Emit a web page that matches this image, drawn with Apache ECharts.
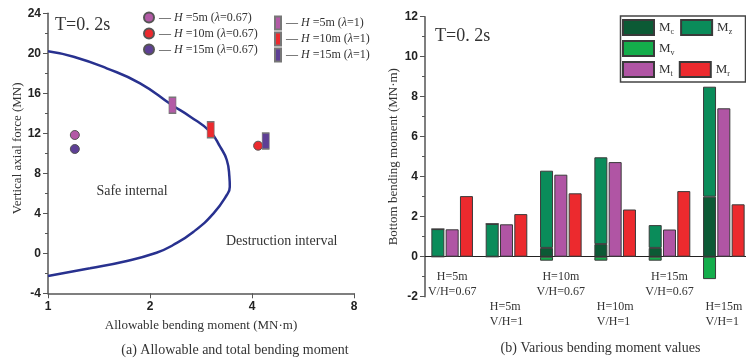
<!DOCTYPE html>
<html>
<head>
<meta charset="utf-8">
<script src="https://cdn.jsdelivr.net/npm/echarts@6/dist/echarts.min.js"></script>
<style>
    html, body { margin: 0; padding: 0; background: #fff; }
    #chart { width: 746px; height: 359px; }
</style>
</head>
<body>
<div id="chart"></div>
<script>
// (a) allowable bending moment curve: [moment MN·m, axial force MN]
var curvePoints = [
    [1.00, 20.2], [1.19, 19.66], [1.49, 18.5], [1.87, 17.0], [2.32, 14.83],
    [2.63, 13.66], [3.01, 12.16], [3.22, 10.66], [3.37, 9.33], [3.43, 7.66],
    [3.44, 6.66], [3.37, 5.83], [3.08, 4.0], [2.69, 2.16], [2.34, 0.83],
    [2.09, 0.06], [1.67, -0.84], [1.33, -1.5], [1.00, -2.27]
];
// total bending moment points, H = 5m, 10m, 15m
var heights = ["5", "10", "15"];
var markColors = ["#b35aa6", "#ec2a2e", "#5e3f95"];
var pts067 = [[1.20, 11.83], [4.17, 10.76], [1.20, 10.43]];
var pts1 = [[2.33, 14.8], [3.02, 12.36], [4.39, 11.23]];

// (b) bending moment values
var groups = ["H=5m\nV/H=0.67", "H=5m\nV/H=1", "H=10m\nV/H=0.67", "H=10m\nV/H=1", "H=15m\nV/H=0.67", "H=15m\nV/H=1"];
var mc = [0, 0, 0.44, 0.63, 0.44, 3.0];
var mzTop = [1.38, 1.64, 4.3, 4.97, 1.58, 8.5];
var mv = [0, 0, -0.2, -0.2, -0.2, -1.12];
var mt = [1.37, 1.62, 4.1, 4.73, 1.36, 7.42];
var mr = [3.03, 2.13, 3.17, 2.36, 3.28, 2.62];

var labelFont = { fontFamily: "Liberation Sans", fontWeight: "bold", fontSize: 12, color: "#222" };
var serif = "Liberation Serif";

var myChart = echarts.init(document.getElementById("chart"));

var series = [];
series.push({
    name: "curve",
    type: "line",
    xAxisIndex: 0,
    yAxisIndex: 0,
    data: curvePoints,
    smooth: true,
    showSymbol: false,
    lineStyle: { color: "#28318f", width: 2.5 },
    z: 1
});
for (var i = 0; i < 3; i++) {
    series.push({
        name: "H=" + heights[i] + "m (λ=0.67)",
        type: "scatter",
        xAxisIndex: 0,
        yAxisIndex: 0,
        symbol: "circle",
        symbolSize: 9,
        data: [pts067[i]],
        itemStyle: { color: markColors[i], borderColor: "#555", borderWidth: 1, opacity: 1 },
        z: 3
    });
}
for (var i = 0; i < 3; i++) {
    series.push({
        name: "H=" + heights[i] + "m (λ=1)",
        type: "scatter",
        xAxisIndex: 0,
        yAxisIndex: 0,
        symbol: "rect",
        symbolSize: [7, 16],
        data: [pts1[i]],
        itemStyle: { color: markColors[i], borderColor: "#777", borderWidth: 1, opacity: 1 },
        z: 3
    });
}

var mzPart = [];
for (var i = 0; i < mzTop.length; i++) {
    mzPart.push(+(mzTop[i] - mc[i]).toFixed(2));
}
function barSeries(name, data, color, stack) {
    var s = {
        name: name,
        type: "bar",
        xAxisIndex: 1,
        yAxisIndex: 1,
        data: data,
        barWidth: 13,
        barGap: "10%",
        itemStyle: { color: color, borderColor: "#3a3a3a", borderWidth: 1 }
    };
    if (stack) s.stack = stack;
    return s;
}
series.push(barSeries("Mc", mc, "#0c5a35", "g"));
series.push(barSeries("Mz", mzPart, "#0a8c5a", "g"));
series.push(barSeries("Mv", mv, "#14ad4b", "g"));
series.push(barSeries("Mt", mt, "#b055a4"));
series.push(barSeries("Mr", mr, "#ec2a2e"));

function leftLegendText(name) {
    var m = name.match(/H=(\d+)m \(λ=([\d.]+)\)/);
    return "— {i|H} =" + m[1] + "m ({i|λ}=" + m[2] + ")";
}
function momentText(name) {
    return "{m|M}{s|" + name.charAt(1) + "}";
}
var leftLegendStyle = {
    fontFamily: serif, fontSize: 12, color: "#333", lineHeight: 16,
    rich: { i: { fontFamily: serif, fontSize: 12, fontStyle: "italic", color: "#333" } }
};
var rightLegendStyle = {
    width: 28,
    rich: {
        m: { fontFamily: serif, fontSize: 13, color: "#333" },
        s: { fontFamily: serif, fontSize: 8, color: "#333", padding: [8, 0, 0, 0] }
    }
};

var option = {
    animation: false,
    backgroundColor: "#fff",
    grid: [
        { left: 48, right: 392, top: 13.3, bottom: 65.7, outerBoundsMode: "none" },
        { left: 425, right: -5, top: 16.7, bottom: 62.3, outerBoundsMode: "none" }
    ],
    legend: [
        {
            data: series.slice(1, 4).map(function (s) { return s.name; }),
            orient: "vertical", left: 143, top: 9.5, padding: 0, itemGap: 0,
            itemWidth: 10, itemHeight: 10, selectedMode: false,
            formatter: leftLegendText, textStyle: leftLegendStyle
        },
        {
            data: series.slice(4, 7).map(function (s) { return s.name; }),
            orient: "vertical", left: 274, top: 15, padding: 0, itemGap: 0,
            itemWidth: 6, itemHeight: 13, selectedMode: false,
            formatter: leftLegendText, textStyle: leftLegendStyle
        },
        {
            data: ["Mc", "Mz"], left: 622, top: 19, padding: 0, itemGap: 6,
            itemWidth: 31, itemHeight: 15, selectedMode: false, icon: "rect",
            formatter: momentText, textStyle: rightLegendStyle
        },
        {
            data: ["Mv"], left: 622, top: 40, padding: 0,
            itemWidth: 31, itemHeight: 15, selectedMode: false, icon: "rect",
            formatter: momentText, textStyle: rightLegendStyle
        },
        {
            data: ["Mt", "Mr"], left: 622, top: 61, padding: 0, itemGap: 6,
            itemWidth: 31, itemHeight: 15, selectedMode: false, icon: "rect",
            formatter: momentText, textStyle: rightLegendStyle
        }
    ],
    xAxis: [
        {
            type: "log",
            logBase: 2,
            gridIndex: 0,
            min: 1,
            max: 8,
            name: "Allowable bending moment (MN·m)",
            nameLocation: "middle",
            nameGap: 26,
            nameTextStyle: { fontFamily: serif, fontSize: 13, color: "#333" },
            axisLine: { onZero: false, lineStyle: { color: "#555", width: 1.5 } },
            axisTick: { length: 5, lineStyle: { color: "#555" } },
            axisLabel: Object.assign({ margin: 7 }, labelFont),
            splitLine: { show: false },
            minorTick: { show: false }
        },
        {
            type: "category",
            gridIndex: 1,
            data: groups,
            axisLine: { onZero: true, lineStyle: { color: "#222", width: 1 } },
            axisTick: { show: false },
            axisLabel: {
                interval: 0,
                margin: -27,
                fontFamily: serif,
                fontSize: 12,
                color: "#333",
                lineHeight: 15,
                formatter: function (value, index) {
                    var lines = value.split("\n");
                    if (index % 2 == 0) {
                        return "{c|" + lines[0] + "}\n{c|" + lines[1] + "}";
                    }
                    return "\n\n{l|" + lines[0] + "}\n{l|" + lines[1] + "}";
                },
                rich: {
                    c: { align: "center", fontFamily: serif, fontSize: 12, color: "#333", lineHeight: 15 },
                    l: { align: "left", fontFamily: serif, fontSize: 12, color: "#333", lineHeight: 15 }
                }
            },
            splitLine: { show: false }
        }
    ],
    yAxis: [
        {
            type: "value",
            gridIndex: 0,
            min: -4,
            max: 24,
            interval: 4,
            name: "Vertical axial force (MN)",
            nameLocation: "middle",
            nameGap: 21.5,
            nameTextStyle: { fontFamily: serif, fontSize: 13, color: "#333", padding: [0, 0, 0, 10] },
            axisLine: { show: true, onZero: false, lineStyle: { color: "#555", width: 1.5 } },
            axisTick: { show: true, length: 5, lineStyle: { color: "#555" } },
            minorTick: { show: true, splitNumber: 2, length: 3, lineStyle: { color: "#555" } },
            axisLabel: Object.assign({ margin: 7 }, labelFont),
            splitLine: { show: false }
        },
        {
            type: "value",
            gridIndex: 1,
            min: -2,
            max: 12,
            interval: 2,
            name: "Bottom bending moment (MN·m)",
            nameLocation: "middle",
            nameGap: 24.5,
            nameTextStyle: { fontFamily: serif, fontSize: 13, color: "#333" },
            axisLine: { show: true, onZero: false, lineStyle: { color: "#555", width: 1.5 } },
            axisTick: { show: true, length: 5, lineStyle: { color: "#555" } },
            minorTick: { show: true, splitNumber: 2, length: 3, lineStyle: { color: "#555" } },
            axisLabel: Object.assign({ margin: 7 }, labelFont),
            splitLine: { show: false }
        }
    ],
    graphic: [
        { type: "rect", z: 0, shape: { x: 620.5, y: 16, width: 125, height: 66 }, style: { fill: "#fff", stroke: "#444", lineWidth: 1.5 } },
        { type: "text", x: 55, y: 25, style: { text: "T=0. 2s", font: "18px Liberation Serif", fill: "#333", verticalAlign: "middle" } },
        { type: "text", x: 435, y: 36, style: { text: "T=0. 2s", font: "18px Liberation Serif", fill: "#333", verticalAlign: "middle" } },
        { type: "text", x: 132, y: 191.7, style: { text: "Safe internal", font: "14px Liberation Serif", fill: "#333", align: "center", verticalAlign: "middle" } },
        { type: "text", x: 281.7, y: 241.7, style: { text: "Destruction interval", font: "14px Liberation Serif", fill: "#333", align: "center", verticalAlign: "middle" } },
        { type: "text", x: 235, y: 350.5, style: { text: "(a) Allowable and total bending moment", font: "14px Liberation Serif", fill: "#333", align: "center", verticalAlign: "middle" } },
        { type: "text", x: 600.5, y: 348, style: { text: "(b) Various bending moment values", font: "14px Liberation Serif", fill: "#333", align: "center", verticalAlign: "middle" } }
    ],
    series: series
};
myChart.setOption(option);
</script>
</body>
</html>
